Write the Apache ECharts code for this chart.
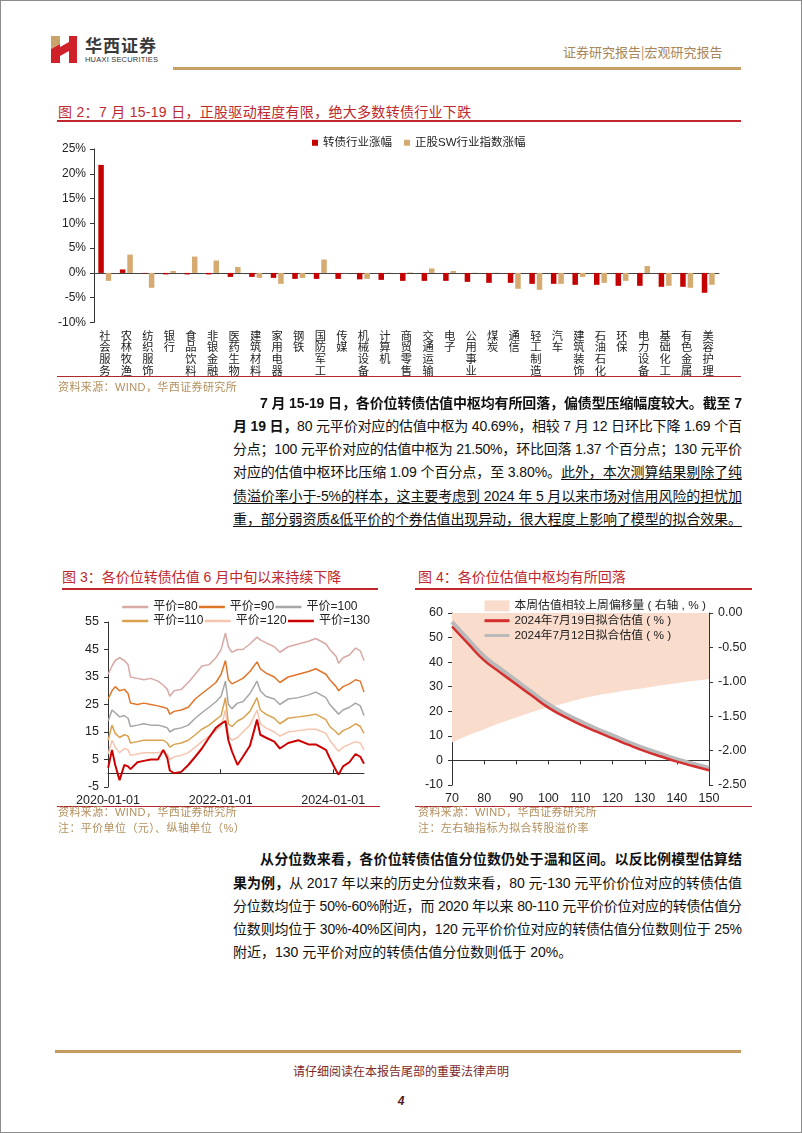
<!DOCTYPE html>
<html><head><meta charset="utf-8">
<script src="https://cdn.jsdelivr.net/npm/echarts@6/dist/echarts.min.js"></script>
<style>
body{margin:0;width:802px;height:1133px;position:relative;background:#fff;overflow:hidden;font-family:"Liberation Sans","Noto Sans CJK SC",sans-serif;}
.abs{position:absolute;}
.frame{position:absolute;left:0;top:0;width:802px;height:1133px;box-sizing:border-box;border:1px solid #8c8c8c;pointer-events:none;}
.ln{position:absolute;white-space:nowrap;font-size:14px;line-height:18px;color:#111;}
.figt{position:absolute;font-size:14px;color:#c0282d;white-space:nowrap;font-family:"Liberation Sans","Noto Sans CJK SC",sans-serif;}
.rl{position:absolute;height:1.5px;background:#c0282d;}
.src{position:absolute;font-size:11px;color:#b38f5c;white-space:nowrap;letter-spacing:0.4px;}
u{text-decoration:underline;text-underline-offset:2px;}
</style></head>
<body>
<div class="frame"></div>
<!-- header -->
<svg class="abs" style="left:51px;top:36px" width="28" height="28" viewBox="0 0 28 28">
  <polygon points="0,0 9,0 9,8 0,13" fill="#c9a46a"/>
  <polygon points="0,13 9,8 9,27 0,27" fill="#d0202a"/>
  <polygon points="9,11 18,6 18,15 9,20" fill="#d0202a"/>
  <rect x="18" y="0" width="8" height="27" fill="#d0202a"/>
</svg>
<div class="abs" style="left:85px;top:35px;font-size:17px;font-weight:bold;color:#3a3a3a;letter-spacing:1px;font-family:'Noto Sans CJK SC';line-height:20px">华西证券</div>
<div class="abs" style="left:85px;top:55px;font-size:7.5px;color:#333;letter-spacing:0.2px;line-height:9px">HUAXI SECURITIES</div>
<div class="abs" style="left:563px;top:44px;font-size:13px;color:#a8865a;white-space:nowrap;line-height:16px;font-family:'Noto Sans CJK SC'">证券研究报告<span style="color:#a8865a">|</span>宏观研究报告</div>
<div class="abs" style="left:173px;top:67px;width:568px;height:3px;background:#c7a066"></div>

<!-- fig 2 -->
<div class="figt" style="left:58px;top:101px;letter-spacing:0.3px">图 2：7 月 15-19 日，正股驱动程度有限，绝大多数转债行业下跌</div>
<div class="rl" style="left:57px;top:120px;width:684px"></div>
<div id="c2" class="abs" style="left:0;top:125px;width:802px;height:255px"></div>
<div class="rl" style="left:57px;top:376px;width:684px;height:1.2px;background:#b0282d"></div>
<div class="src" style="left:58px;top:378px">资料来源：WIND，华西证券研究所</div>

<!-- paragraph 1 -->
<div class="ln fit" data-w="482" style="left:260px;top:394px"><span><b>7 月 15-19 日，各价位转债估值中枢均有所回落，偏债型压缩幅度较大。截至 7</b></span></div>
<div class="ln fit" data-w="509" style="left:233px;top:417px"><span><b>月 19 日，</b>80 元平价对应的估值中枢为 40.69%，相较 7 月 12 日环比下降 1.69 个百</span></div>
<div class="ln fit" data-w="509" style="left:233px;top:440px"><span>分点；100 元平价对应的估值中枢为 21.50%，环比回落 1.37 个百分点；130 元平价</span></div>
<div class="ln fit" data-w="509" style="left:233px;top:463px"><span>对应的估值中枢环比压缩 1.09 个百分点，至 3.80%。<u>此外，本次测算结果剔除了纯</u></span></div>
<div class="ln fit" data-w="509" style="left:233px;top:487px"><span><u>债溢价率小于-5%的样本，这主要考虑到 2024 年 5 月以来市场对信用风险的担忧加</u></span></div>
<div class="ln fit" data-w="509" style="left:233px;top:510px"><span><u>重，部分弱资质&amp;低平价的个券估值出现异动，很大程度上影响了模型的拟合效果。</u></span></div>

<!-- fig 3 / fig 4 titles -->
<div class="figt" style="left:62px;top:566px">图 3：各价位转债估值 6 月中旬以来持续下降</div>
<div class="rl" style="left:62px;top:588px;width:316px"></div>
<div class="figt" style="left:418px;top:566px">图 4：各价位估值中枢均有所回落</div>
<div class="rl" style="left:415px;top:588px;width:337px"></div>
<div id="c3" class="abs" style="left:40px;top:588px;width:345px;height:222px"></div>
<div id="c4" class="abs" style="left:400px;top:588px;width:360px;height:222px"></div>
<div class="rl" style="left:57px;top:806px;width:323px;height:1.2px;background:#b0282d"></div>
<div class="rl" style="left:415px;top:806px;width:337px;height:1.2px;background:#b0282d"></div>
<div class="src" style="left:58px;top:805px;line-height:15px">资料来源：WIND，华西证券研究所</div>
<div class="src" style="left:58px;top:821px;line-height:15px">注：平价单位（元）、纵轴单位（%）</div>
<div class="src" style="left:418px;top:805px;line-height:15px">资料来源：WIND，华西证券研究所</div>
<div class="src" style="left:418px;top:821px;line-height:15px">注：左右轴指标为拟合转股溢价率</div>

<!-- paragraph 2 -->
<div class="ln fit" data-w="482" style="left:260px;top:850px"><span><b>从分位数来看，各价位转债估值分位数仍处于温和区间。以反比例模型估算结</b></span></div>
<div class="ln fit" data-w="509" style="left:233px;top:874px"><span><b>果为例，</b>从 2017 年以来的历史分位数来看，80 元-130 元平价价位对应的转债估值</span></div>
<div class="ln fit" data-w="509" style="left:233px;top:897px"><span>分位数均位于 50%-60%附近，而 2020 年以来 80-110 元平价价位对应的转债估值分</span></div>
<div class="ln fit" data-w="509" style="left:233px;top:920px"><span>位数则均位于 30%-40%区间内，120 元平价价位对应的转债估值分位数则位于 25%</span></div>
<div class="ln" style="left:233px;top:943px"><span>附近，130 元平价对应的转债估值分位数则低于 20%。</span></div>

<!-- footer -->
<div class="abs" style="left:55px;top:1050px;width:686px;height:3px;background:#c49a5e"></div>
<div class="abs" style="left:0;width:802px;top:1064px;text-align:center;font-size:12px;color:#7d2a2a;line-height:16px">请仔细阅读在本报告尾部的重要法律声明</div>
<div class="abs" style="left:0;width:802px;top:1093px;text-align:center;font-size:12px;font-weight:bold;font-style:italic;color:#5a1a1a;line-height:16px">4</div>

<script>
// ---------- Figure 2 data ----------
const industries = ['社会服务','农林牧渔','纺织服饰','银行','食品饮料','非银金融','医药生物','建筑材料','家用电器','钢铁','国防军工','传媒','机械设备','计算机','商贸零售','交通运输','电子','公用事业','煤炭','通信','轻工制造','汽车','建筑装饰','石油石化','环保','电力设备','基础化工','有色金属','美容护理'];
const bondIndustryChg = [21.8,0.7,-0.1,-0.3,-0.3,-0.3,-0.8,-0.8,-1.0,-1.2,-1.2,-1.2,-1.3,-1.4,-1.6,-1.6,-1.6,-1.8,-2.0,-2.0,-2.2,-2.2,-2.4,-2.4,-2.6,-2.6,-2.8,-2.8,-4.0];
const stockIndustryChg = [-1.6,3.7,-3.0,0.4,3.3,2.5,1.2,-1.0,-2.2,-1.0,2.7,-0.05,-1.2,0.05,0.1,0.9,0.4,0.05,0.05,-3.2,-3.4,-2.2,-0.8,-2.0,-1.6,1.4,-2.6,-3.0,-2.4];
const fig2Names = ['转债行业涨幅','正股SW行业指数涨幅'];

// ---------- Figure 3 data ----------
const valDates = ['2020-01-02','2020-01-27','2020-02-17','2020-03-16','2020-04-16','2020-05-10','2020-05-26','2020-07-10','2020-08-20','2020-10-05','2020-11-20','2020-12-25','2021-01-20','2021-02-05','2021-03-05','2021-04-20','2021-06-05','2021-07-20','2021-09-01','2021-10-18','2021-12-01','2022-01-04','2022-02-01','2022-02-20','2022-03-15','2022-04-20','2022-05-25','2022-07-10','2022-08-25','2022-09-15','2022-10-20','2022-12-15','2023-01-20','2023-03-15','2023-05-20','2023-07-25','2023-09-10','2023-11-15','2023-12-10','2024-01-20','2024-02-05','2024-03-05','2024-04-15','2024-05-25','2024-06-25','2024-07-19'];
const parity80  = [36,39,41,42,41,39.5,35,34.5,34,34.5,33.5,32,30.5,28,30,30.5,33,36,39,39.5,42,45,51,46,44,45,45,47,49.5,48.5,47.5,46,44,46,47,48,49,47,45,42.5,40,42,43,45.5,44.5,41];
const parity90  = [27,30,31.5,30,30.5,29,25.5,25,25.5,25,24.5,24,23.5,21.5,22.5,23,24,27,29,31,33,36,41,34,32.5,33.5,34.5,37,40.5,38,36.5,35,33,35,36,37,38,36,34,31.5,30,31.5,32.5,34,33.5,29.5];
const parity100 = [19,23,22,20.5,21,20,17,17.5,18,17.5,17.5,17,16.5,15,16,16.5,17.5,20,22,24,26,28,33.5,25,23.5,25.5,26,29,33.5,30,28,27,25,27,27.5,28.5,29.5,27.5,25,22.5,21.5,23,24,25.5,24.5,21];
const parity110 = [12,17.5,14.5,13,14,13.5,11,11.5,12,12,12,12,11,9.5,10.5,11,12,14,16,17.5,19.5,21,27.5,18,17,19,20,22.5,27.5,23,21.5,20,18,20,20.5,21,21.5,19.5,17,15,14,15.5,16.5,18,17,14.5];
const parity120 = [7,12,9.5,7.5,9,8.5,6.5,7,7.5,7.5,7.5,8,7,5,6,6.5,7.5,9.5,11.5,13.5,15.5,17,23,13.5,12,13,15,17.5,23,18,16.5,15,13.5,15,15.5,16,16,14.5,12,9,8,9.5,10.5,11.5,11,8.5];
const parity130 = [2,8.5,3,-2.5,3,2.5,1.5,4,4.5,5,5,8.5,5.5,1,0,0.5,3,6,9,13,16.5,18,19,12,8,3,6,10,19.5,14,13,11.5,9,11,12,10.5,10.5,8.5,5.5,1,-0.5,2.5,4,7,6,3.5];
const parityNames = ['平价=80','平价=90','平价=100','平价=110','平价=120','平价=130'];
const fig3Ticks = ['2020-01-01','2022-01-01','2024-01-01'];

// ---------- Figure 4 data ----------
const fitPrices = [70,75,80,85,90,95,100,105,110,115,120,125,130,135,140,145,150];
const fit0719 = [54.5,47.5,40.7,35.8,31.0,26.2,21.5,17.8,14.6,11.7,9.0,6.3,3.8,1.6,-0.5,-2.3,-4.0];
const fit0712 = [56.4,49.3,42.4,37.4,32.5,27.6,22.9,19.1,15.9,12.9,10.2,7.4,4.9,2.7,0.5,-1.3,-3.0];
const weeklyShift = [-1.88,-1.78,-1.69,-1.60,-1.52,-1.44,-1.37,-1.31,-1.25,-1.20,-1.16,-1.12,-1.09,-1.05,-1.02,-0.99,-0.96];
const fig4Names = ['本周估值相较上周偏移量 ( 右轴 , % )','2024年7月19日拟合估值 ( % )','2024年7月12日拟合估值 ( % )'];

// ---------- text line fitting ----------
document.querySelectorAll('.fit').forEach(el => {
  const sp = el.firstElementChild;
  const w = sp.getBoundingClientRect().width;
  const n = sp.textContent.length;
  const target = +el.dataset.w;
  sp.style.letterSpacing = ((target - w) / (n - 1)) + 'px';
});

const FONT = "'Liberation Sans','Noto Sans CJK SC',sans-serif";
const AX = '#333';

// ---------- Chart 2 ----------
const c2 = echarts.init(document.getElementById('c2'));
c2.setOption({
  animation:false,
  textStyle:{fontFamily:FONT},
  legend:{top:7, left:307, itemWidth:6, itemHeight:6, itemGap:12, icon:'rect',
    textStyle:{fontSize:11.5, color:'#222', fontFamily:FONT}, data:fig2Names},
  grid:{left:94, right:83, top:24, bottom:57.5},
  xAxis:[
    {type:'category', data:industries, axisLine:{show:false, onZero:false}, axisTick:{show:false},
     axisLabel:{interval:0, margin:8, fontSize:11.3, lineHeight:11.8, color:'#222',
       formatter:v => v.split('').join('\n')}},
    {type:'category', data:industries, position:'bottom', axisLine:{show:true, onZero:true, lineStyle:{color:'#444', width:1}},
     axisTick:{show:false}, axisLabel:{show:false}}
  ],
  yAxis:{type:'value', min:-10, max:25, interval:5,
    axisLine:{show:true, lineStyle:{color:AX}}, axisTick:{show:true, length:4, lineStyle:{color:AX}},
    splitLine:{show:false}, axisLabel:{formatter:'{value}%', fontSize:12, color:'#222', margin:8}},
  series:[
    {type:'bar', name:fig2Names[0], data:bondIndustryChg, barWidth:5.5, barGap:'35%', itemStyle:{color:'#c40000'}},
    {type:'bar', name:fig2Names[1], data:stockIndustryChg, barWidth:5.5, barGap:'35%', itemStyle:{color:'#d6ab72'}}
  ]
});

// ---------- Chart 3 ----------
const ts = s => { const p = s.split('-'); return new Date(+p[0], +p[1]-1, +p[2]).getTime(); };
const pad = n => (n < 10 ? '0' : '') + n;
const fmtDate = v => { const d = new Date(v); return d.getFullYear() + '-' + pad(d.getMonth()+1) + '-' + pad(d.getDate()); };
const parityData = [parity80, parity90, parity100, parity110, parity120, parity130];
const parityColors = ['#d8aaa6','#e2742a','#a6a6a6','#d9a24f','#f7c4ae','#cc0000'];
const c3 = echarts.init(document.getElementById('c3'));
const legItem = {itemWidth:26, itemHeight:10, itemGap:0, itemStyle:{opacity:0}, lineStyle:{width:2.5},
  textStyle:{fontSize:12, color:'#222', width:56, fontFamily:FONT}};
const tMin = ts('2020-01-01'), tMax = ts('2024-07-19');
c3.setOption({
  animation:false,
  textStyle:{fontFamily:FONT},
  legend:[
    Object.assign({left:76, top:8, data:parityNames.slice(0,3)}, legItem),
    Object.assign({left:76, top:22, data:parityNames.slice(3)}, legItem)
  ],
  grid:{left:68, right:21, top:34, bottom:23},
  xAxis:[
    {type:'value', min:tMin, max:tMax, axisLine:{show:false, onZero:false}, axisTick:{show:false},
     splitLine:{show:false},
     axisLabel:{customValues:fig3Ticks.map(ts), formatter:v => fmtDate(v), fontSize:12.5, color:'#222', margin:7, hideOverlap:false}},
    {type:'value', min:tMin, max:tMax, position:'bottom',
     axisLine:{show:true, onZero:true, lineStyle:{color:AX}},
     axisTick:{show:true, inside:true, length:4, customValues:fig3Ticks.slice(1).map(ts), lineStyle:{color:AX}},
     axisLabel:{show:false}, splitLine:{show:false}}
  ],
  yAxis:{type:'value', min:-5, max:55, interval:10,
    axisLine:{show:true, lineStyle:{color:AX}}, axisTick:{show:true, length:4, lineStyle:{color:AX}},
    splitLine:{show:false}, axisLabel:{fontSize:12.5, color:'#222', margin:9}},
  series:parityNames.map((nm, k) => ({
    type:'line', name:nm, xAxisIndex:0, symbol:'none', smooth:false,
    data:valDates.map((d, i) => [ts(d), parityData[k][i]]),
    lineStyle:{color:parityColors[k], width:k === 5 ? 2 : 1.5},
    itemStyle:{color:parityColors[k]}
  }))
});

// ---------- Chart 4 ----------
const c4 = echarts.init(document.getElementById('c4'));
c4.setOption({
  animation:false,
  textStyle:{fontFamily:FONT},
  legend:{orient:'vertical', left:78, top:7, itemGap:3, itemWidth:25, itemHeight:11,
    itemStyle:{opacity:0}, lineStyle:{width:3},
    textStyle:{fontSize:11.8, color:'#222', fontFamily:FONT},
    data:[{name:fig4Names[0], icon:'rect', itemStyle:{opacity:1}}, {name:fig4Names[1]}, {name:fig4Names[2]}]},
  grid:{left:52, right:51, top:25, bottom:25},
  xAxis:[
    {type:'value', min:70, max:150, interval:10, axisLine:{show:false, onZero:false}, axisTick:{show:false},
     splitLine:{show:false}, axisLabel:{fontSize:12.5, color:'#222', margin:7}},
    {type:'value', min:70, max:150, interval:10, position:'bottom',
     axisLine:{show:true, onZero:true, onZeroAxisIndex:0, lineStyle:{color:AX}},
     axisTick:{show:true, length:4, lineStyle:{color:AX}}, axisLabel:{show:false}, splitLine:{show:false}}
  ],
  yAxis:[
    {type:'value', min:-10, max:60, interval:10, position:'left',
     axisLine:{show:true, lineStyle:{color:AX}}, axisTick:{show:true, length:4, lineStyle:{color:AX}},
     splitLine:{show:false}, axisLabel:{fontSize:12.5, color:'#222', margin:9}},
    {type:'value', min:-2.5, max:0, interval:0.5, position:'right',
     axisLine:{show:true, lineStyle:{color:AX}}, axisTick:{show:true, length:4, lineStyle:{color:AX}},
     splitLine:{show:false}, axisLabel:{fontSize:12.5, color:'#222', margin:9, formatter:v => v.toFixed(2)}}
  ],
  series:[
    {type:'line', name:fig4Names[0], xAxisIndex:0, yAxisIndex:1, symbol:'none', smooth:true,
     data:fitPrices.map((p, i) => [p, weeklyShift[i]]),
     lineStyle:{width:0, color:'#f9dccc'}, itemStyle:{color:'#f9dccc'}, areaStyle:{color:'#f9dccc', opacity:1}},
    {type:'line', name:fig4Names[2], xAxisIndex:0, yAxisIndex:0, symbol:'none', smooth:true, z:3,
     data:fitPrices.map((p, i) => [p, fit0712[i]]),
     lineStyle:{width:4, color:'#b9b9b9'}, itemStyle:{color:'#b9b9b9'}},
    {type:'line', name:fig4Names[1], xAxisIndex:0, yAxisIndex:0, symbol:'none', smooth:true, z:4,
     data:fitPrices.map((p, i) => [p, fit0719[i]]),
     lineStyle:{width:2.5, color:'#d42f2f'}, itemStyle:{color:'#d42f2f'}}
  ]
});
</script>
</body></html>
